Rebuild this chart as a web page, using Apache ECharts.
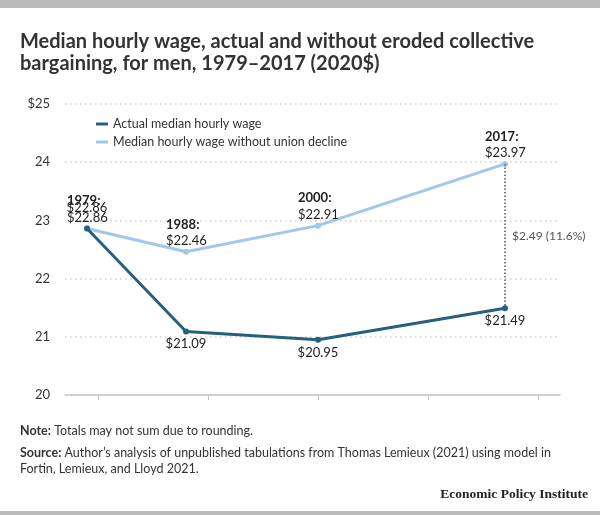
<!DOCTYPE html>
<html>
<head>
<meta charset="utf-8">
<script src="https://cdn.jsdelivr.net/npm/echarts@6/dist/echarts.min.js"></script>
<style>
  html, body { margin: 0; padding: 0; background: #fff; }
  #chart { width: 600px; height: 515px; }
</style>
</head>
<body>
<div id="chart"></div>
<script>
// ---- data ----
const years = [1979, 1988, 2000, 2017];
const actualWage = [22.86, 21.09, 20.95, 21.49];
const noDeclineWage = [22.86, 22.46, 22.91, 23.97];
const seriesNames = ['Actual median hourly wage', 'Median hourly wage without union decline'];
const xTickYears = [1980, 1990, 2000, 2010, 2020];
const yTickLabels = ['20', '21', '22', '23', '24', '$25'];
const gapYear = 2017;
const gapLabel = '$2.49 (11.6%)';
const titleText = 'Median hourly wage, actual and without eroded collective\nbargaining, for men, 1979\u20132017 (2020$)';
const noteText = 'Totals may not sum due to rounding.';
const sourceText = 'Author\u2019s analysis of unpublished tabulations from Thomas Lemieux (2021) using model in\nFortin, Lemieux, and Lloyd 2021.';
const brandText = 'Economic Policy Institute';

// ---- styles ----
const FONT = 'Lato';
const DARK = '#25617f';
const LIGHT = '#a0c8ea';
const TEXT = '#222';

const chart = echarts.init(document.getElementById('chart'), null, { renderer: 'canvas' });

const darkData = years.map((y, i) => {
  const item = { value: [y, actualWage[i]] };
  if (i === 0) item.label = { position: 'top', distance: 9 };
  return item;
});
const lightData = years.map((y, i) => ({ value: [y, noDeclineWage[i]], yearLabel: y }));

const gapIdx = years.indexOf(gapYear);
const gapMid = (noDeclineWage[gapIdx] + actualWage[gapIdx]) / 2;

chart.setOption({
  animation: false,
  backgroundColor: '#fff',
  textStyle: { fontFamily: FONT },
  graphic: [
    { type: 'rect', left: 0, top: 0, shape: { width: 600, height: 8 }, style: { fill: '#bbbbbb' } },
    { type: 'rect', left: 0, top: 511, shape: { width: 600, height: 4 }, style: { fill: '#bbbbbb' } }
  ],
  title: [
    {
      text: titleText, left: 20, top: 30.5, padding: 0,
      textStyle: { fontFamily: FONT, fontSize: 20, fontWeight: 'bold', color: '#333', lineHeight: 22 }
    },
    {
      text: '{b|Note:} ' + noteText, left: 20, top: 423, padding: 0,
      textStyle: { fontFamily: FONT, fontSize: 12.5, fontWeight: 'normal', color: '#333', lineHeight: 16,
        rich: { b: { fontFamily: FONT, fontSize: 12.5, fontWeight: 'bold', color: '#333' } } }
    },
    {
      text: '{b|Source:} ' + sourceText, left: 20, top: 445.5, padding: 0,
      textStyle: { fontFamily: FONT, fontSize: 12.5, fontWeight: 'normal', color: '#333', lineHeight: 15.7,
        rich: { b: { fontFamily: FONT, fontSize: 12.5, fontWeight: 'bold', color: '#333', lineHeight: 15.7 } } }
    },
    {
      text: brandText, right: 12, top: 487.5, padding: 0,
      textStyle: { fontFamily: 'Liberation Serif', fontSize: 13.5, fontWeight: 'bold', color: '#222' }
    }
  ],
  legend: {
    orient: 'vertical', left: 96, top: 117, itemGap: 4, padding: 0,
    icon: 'rect', itemWidth: 12, itemHeight: 3,
    textStyle: { fontFamily: FONT, fontSize: 12.5, color: '#333', lineHeight: 14 },
    data: seriesNames
  },
  grid: { left: 65, right: 40, top: 104, bottom: 120, containLabel: false },
  xAxis: {
    type: 'value', min: 1977, max: 2022,
    axisLine: { show: true, lineStyle: { color: '#c4c4c4', width: 1.5 } },
    axisTick: { show: true, customValues: xTickYears, length: 5, lineStyle: { color: '#c4c4c4' } },
    axisLabel: { show: false },
    splitLine: { show: false }
  },
  yAxis: {
    type: 'value', min: 20, max: 25, interval: 1,
    axisLine: { show: false }, axisTick: { show: false },
    axisLabel: {
      margin: 15, fontFamily: FONT, fontSize: 13, color: '#333',
      formatter: v => yTickLabels[Math.round(v - 20)]
    },
    splitLine: { lineStyle: { type: [1.5, 3.5], color: '#cfcfcf', width: 1.5 } }
  },
  series: [
    {
      name: seriesNames[1], type: 'line', data: lightData,
      color: LIGHT, lineStyle: { width: 3, color: LIGHT },
      symbol: 'circle', symbolSize: 6, itemStyle: { color: LIGHT },
      z: 2,
      label: {
        show: true, position: 'top', distance: 0,
        formatter: p => '{y|' + p.data.yearLabel + ':}\n{v|$' + p.data.value[1].toFixed(2) + '}',
        rich: {
          y: { fontFamily: FONT, fontSize: 13, fontWeight: 'bold', color: TEXT, lineHeight: 16.3, width: 40, align: 'left' },
          v: { fontFamily: FONT, fontSize: 13, color: TEXT, lineHeight: 16.3, width: 40, align: 'left' }
        }
      },
      markLine: {
        silent: true, symbol: 'none',
        label: { show: false },
        lineStyle: { type: [1.5, 2], color: '#555', width: 1.5 },
        data: [[{ coord: [gapYear, noDeclineWage[gapIdx]] }, { coord: [gapYear, actualWage[gapIdx]] }]]
      },
      markPoint: {
        silent: true, symbol: 'circle', symbolSize: 0,
        data: [{ coord: [gapYear, gapMid] }],
        label: { show: true, position: 'right', distance: 7, formatter: gapLabel,
          fontFamily: FONT, fontSize: 12, color: '#555' }
      }
    },
    {
      name: seriesNames[0], type: 'line', data: darkData,
      color: DARK, lineStyle: { width: 3, color: DARK },
      symbol: 'circle', symbolSize: 6, itemStyle: { color: DARK },
      z: 3,
      label: {
        show: true, position: 'bottom', distance: 1.5,
        fontFamily: FONT, fontSize: 13, color: TEXT, lineHeight: 16.5,
        formatter: p => '$' + p.data.value[1].toFixed(2)
      }
    }
  ]
});
</script>
</body>
</html>
